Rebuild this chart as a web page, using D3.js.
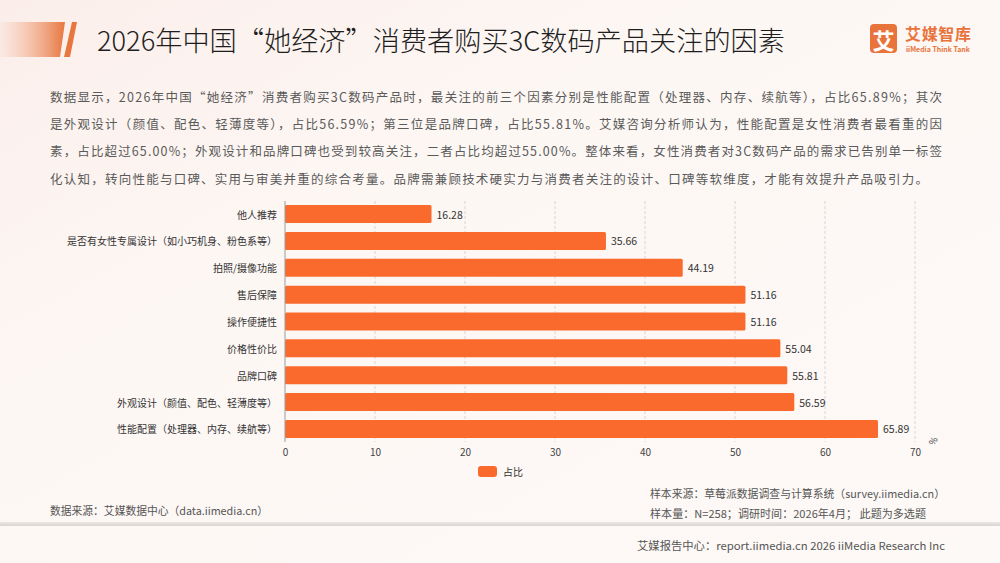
<!DOCTYPE html>
<html>
<head>
<meta charset="utf-8">
<script src="https://cdn.jsdelivr.net/npm/d3@7"></script>
<style>
  html, body { margin: 0; padding: 0; background: #fdf7f4; }
  svg { display: block; }
  text { font-family: "Noto Sans CJK SC", "Noto Sans", sans-serif; }
</style>
</head>
<body>
<div id="viz"></div>
<script>
// Data, top to bottom
const categories = [
    "他人推荐",
    "是否有女性专属设计（如小巧机身、粉色系等）",
    "拍照/摄像功能",
    "售后保障",
    "操作便捷性",
    "价格性价比",
    "品牌口碑",
    "外观设计（颜值、配色、轻薄度等）",
    "性能配置（处理器、内存、续航等）"
];
const shares = [16.28, 35.66, 44.19, 51.16, 51.16, 55.04, 55.81, 56.59, 65.89];
const xTicks = [0, 10, 20, 30, 40, 50, 60, 70];

const title = "2026年中国“她经济”消费者购买3C数码产品关注的因素";
const paragraph = [
    "数据显示，2026年中国“她经济”消费者购买3C数码产品时，最关注的前三个因素分别是性能配置（处理器、内存、续航等），占比65.89%；其次",
    "是外观设计（颜值、配色、轻薄度等），占比56.59%；第三位是品牌口碑，占比55.81%。艾媒咨询分析师认为，性能配置是女性消费者最看重的因",
    "素，占比超过65.00%；外观设计和品牌口碑也受到较高关注，二者占比均超过55.00%。整体来看，女性消费者对3C数码产品的需求已告别单一标签",
    "化认知，转向性能与口碑、实用与审美并重的综合考量。品牌需兼顾技术硬实力与消费者关注的设计、口碑等软维度，才能有效提升产品吸引力。"
];

const W = 1000, H = 563;
const orange = "#f96a2c";

const svg = d3.select("#viz").append("svg")
    .attr("width", W)
    .attr("height", H);

const defs = svg.append("defs");
const bg = defs.append("linearGradient").attr("id", "bg")
    .attr("x1", 0).attr("y1", 0).attr("x2", 1).attr("y2", 1);
bg.append("stop").attr("offset", 0).attr("stop-color", "#fbeeea");
bg.append("stop").attr("offset", 0.35).attr("stop-color", "#fdf7f4");
bg.append("stop").attr("offset", 1).attr("stop-color", "#fdf9f6");

const bar = defs.append("linearGradient").attr("id", "titlebar");
bar.append("stop").attr("offset", 0).attr("stop-color", "#f3b79a").attr("stop-opacity", 0.1);
bar.append("stop").attr("offset", 1).attr("stop-color", "#e8763f");

const sep = defs.append("linearGradient").attr("id", "sep")
    .attr("x1", 0).attr("y1", 0).attr("x2", 0).attr("y2", 1);
sep.append("stop").attr("offset", 0).attr("stop-color", "#ebe7e5");
sep.append("stop").attr("offset", 1).attr("stop-color", "#d8d5d3");

svg.append("rect").attr("width", W).attr("height", H).attr("fill", "url(#bg)");

// Header
svg.append("path")
    .attr("d", "M0,22 L65,22 L60,57 L0,57 Z")
    .attr("fill", "url(#titlebar)");
svg.append("path")
    .attr("d", "M72,22 L77,22 L70,57 L64,57 Z")
    .attr("fill", "#e8763f");

svg.append("text")
    .attr("x", 97)
    .attr("y", 39)
    .attr("dominant-baseline", "central")
    .attr("textLength", 688)
    .attr("lengthAdjust", "spacingAndGlyphs")
    .style("font-size", "27px")
    .style("font-weight", "300")
    .style("fill", "#1e1e1e")
    .text(title);

// Logo
svg.append("rect")
    .attr("x", 870).attr("y", 24)
    .attr("width", 27).attr("height", 29)
    .attr("rx", 4)
    .attr("fill", "#e8743c");
svg.append("text")
    .attr("x", 883.5).attr("y", 39)
    .attr("text-anchor", "middle")
    .attr("dominant-baseline", "central")
    .style("font-size", "22px")
    .style("font-weight", "bold")
    .style("fill", "#fff")
    .text("艾");
svg.append("text")
    .attr("x", 905).attr("y", 33)
    .attr("dominant-baseline", "central")
    .attr("textLength", 66)
    .style("font-size", "16px")
    .style("font-weight", "bold")
    .style("fill", "#e8743c")
    .text("艾媒智库");
svg.append("text")
    .attr("x", 906).attr("y", 49)
    .attr("dominant-baseline", "central")
    .attr("textLength", 64)
    .attr("lengthAdjust", "spacingAndGlyphs")
    .style("font-size", "7px")
    .style("font-weight", "bold")
    .style("fill", "#e8743c")
    .text("iiMedia Think Tank");

// Paragraph
const paraEnds = [942, 942, 942, 928];
svg.selectAll(".para")
    .data(paragraph)
    .enter()
    .append("text")
    .attr("class", "para")
    .attr("x", 50)
    .attr("y", (d, i) => 96 + i * 27.4)
    .attr("dominant-baseline", "central")
    .attr("textLength", (d, i) => paraEnds[i] - 50)
    .attr("lengthAdjust", "spacing")
    .style("font-size", "12.5px")
    .style("fill", "#5a5a5a")
    .text(d => d);

// Chart
const x = d3.scaleLinear()
    .domain([0, 70])
    .range([285, 915]);

const y = d3.scaleBand()
    .domain(categories)
    .range([201, 442])
    .paddingInner(0.33)
    .paddingOuter(0.15);

svg.append("g")
    .selectAll("line")
    .data(xTicks.slice(1))
    .enter()
    .append("line")
    .attr("x1", d => x(d)).attr("x2", d => x(d))
    .attr("y1", 201).attr("y2", 442)
    .attr("stroke", "#cfcbc9")
    .attr("stroke-width", 0.8)
    .attr("stroke-dasharray", "3,2");

svg.selectAll(".bar")
    .data(shares)
    .enter()
    .append("rect")
    .attr("class", "bar")
    .attr("x", x(0))
    .attr("y", (d, i) => y(categories[i]))
    .attr("width", d => x(d) - x(0))
    .attr("height", y.bandwidth())
    .attr("rx", 1.5)
    .attr("fill", orange);

svg.append("line")
    .attr("x1", x(0)).attr("x2", x(0))
    .attr("y1", 201).attr("y2", 442)
    .attr("stroke", "#9a9a9a")
    .attr("stroke-width", 1);

svg.selectAll(".val")
    .data(shares)
    .enter()
    .append("text")
    .attr("class", "val")
    .attr("x", d => x(d) + 5)
    .attr("y", (d, i) => y(categories[i]) + y.bandwidth() / 2)
    .attr("dominant-baseline", "central")
    .style("font-size", "10.5px")
    .style("fill", "#333")
    .text(d => d.toFixed(2));

svg.selectAll(".cat")
    .data(categories)
    .enter()
    .append("text")
    .attr("class", "cat")
    .attr("x", 277)
    .attr("y", d => y(d) + y.bandwidth() / 2)
    .attr("text-anchor", "end")
    .attr("dominant-baseline", "central")
    .style("font-size", "10px")
    .style("fill", "#333")
    .text(d => d);

const xAxis = d3.axisBottom(x)
    .tickValues(xTicks)
    .tickSize(0)
    .tickPadding(6);

const xg = svg.append("g")
    .attr("transform", "translate(0, 443)")
    .call(xAxis);
xg.select(".domain").remove();
xg.selectAll("text")
    .style("font-family", "\"Noto Sans CJK SC\", sans-serif")
    .style("font-size", "10px")
    .style("fill", "#444");

svg.append("text")
    .attr("transform", "translate(933, 441) rotate(-60)")
    .attr("text-anchor", "middle")
    .attr("dominant-baseline", "central")
    .style("font-size", "9px")
    .style("fill", "#444")
    .text("%");

// Legend
svg.append("rect")
    .attr("x", 478).attr("y", 466)
    .attr("width", 19).attr("height", 11)
    .attr("rx", 3)
    .attr("fill", orange);
svg.append("text")
    .attr("x", 503).attr("y", 471.5)
    .attr("dominant-baseline", "central")
    .style("font-size", "10px")
    .style("fill", "#333")
    .text("占比");

// Footer
function footText(xp, yp, len, str) {
    svg.append("text")
        .attr("x", xp).attr("y", yp)
        .attr("dominant-baseline", "central")
        .attr("textLength", len)
        .attr("lengthAdjust", "spacingAndGlyphs")
        .style("font-size", "11px")
        .style("fill", "#555")
        .text(str);
}
footText(50, 510, 218, "数据来源：艾媒数据中心（data.iimedia.cn）");
footText(650, 493, 295, "样本来源：草莓派数据调查与计算系统（survey.iimedia.cn）");
footText(650, 513, 276, "样本量：N=258；调研时间：2026年4月；  此题为多选题");

svg.append("rect")
    .attr("x", 0).attr("y", 522)
    .attr("width", W).attr("height", 4)
    .attr("fill", "url(#sep)");

footText(637, 545, 308, "艾媒报告中心：report.iimedia.cn   2026 iiMedia Research Inc");
</script>
</body>
</html>
